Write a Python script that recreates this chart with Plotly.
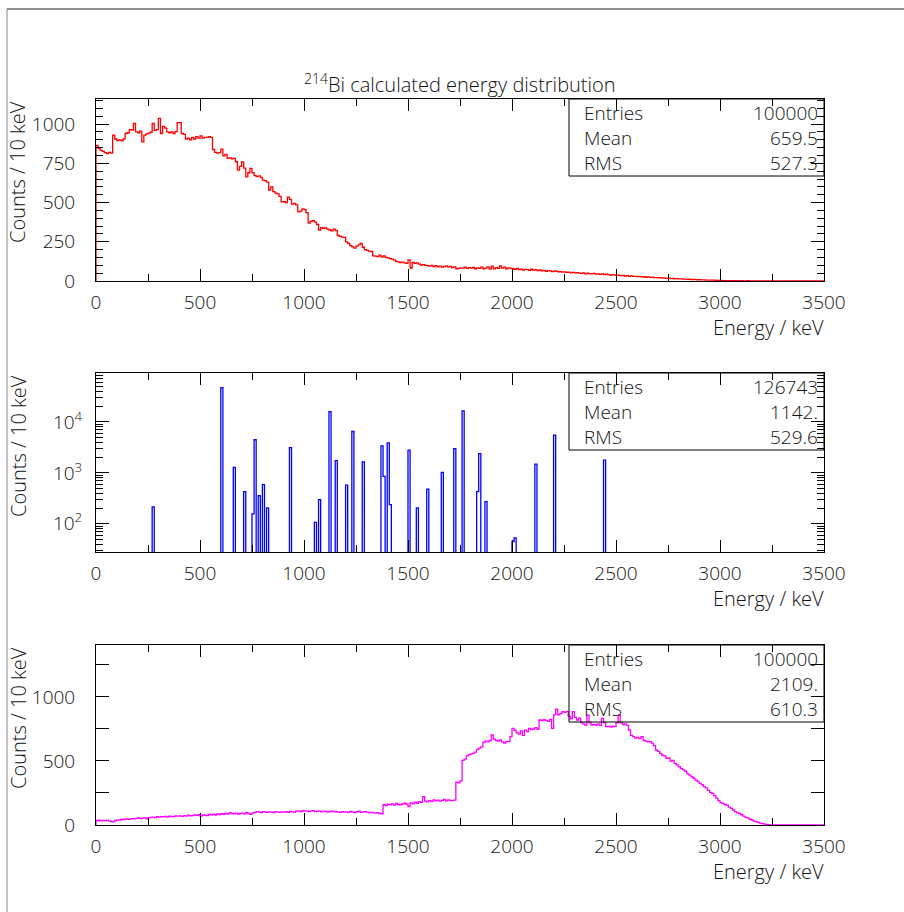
import plotly.graph_objects as go

# ---------------- data (10 keV bins starting at 0 keV) ----------------
BIN = 10
NBINS = 350

top_counts = [
    865, 845, 832, 826, 818, 812, 820, 815, 930, 905,
    895, 900, 893, 905, 940, 945, 965, 962, 1004, 950,
    945, 955, 887, 930, 938, 942, 948, 1004, 960, 965,
    1036, 940, 985, 975, 950, 945, 950, 940, 952, 1010,
    1010, 940, 935, 905, 910, 900, 915, 905, 920, 910,
    925, 910, 915, 915, 920, 915, 838, 820, 815, 818,
    840, 797, 807, 781, 785, 778, 782, 760, 707, 730,
    759, 720, 664, 690, 718, 690, 672, 665, 670, 660,
    643, 640, 630, 580, 600, 570, 560, 555, 540, 505,
    505, 500, 535, 520, 490, 495, 485, 440, 445, 460,
    455, 435, 369, 380, 385, 375, 360, 325, 340, 335,
    338, 330, 325, 320, 330, 322, 290, 285, 280, 278,
    250, 240, 225, 218, 210, 222, 230, 240, 215, 200,
    195, 190, 188, 160, 158, 155, 165, 152, 160, 150,
    148, 142, 140, 135, 125, 122, 118, 120, 115, 112,
    134, 83, 118, 112, 115, 108, 102, 105, 100, 98,
    95, 100, 92, 98, 90, 95, 88, 92, 96, 90,
    93, 85, 90, 78, 80, 84, 82, 88, 80, 85,
    82, 86, 78, 84, 80, 88, 78, 82, 90, 76,
    95, 78, 85, 80, 96, 82, 88, 78, 84, 80,
    78, 74, 80, 72, 76, 70, 74, 72, 68, 75,
    70, 72, 66, 70, 64, 68, 62, 66, 64, 60,
    65, 62, 58, 60, 56, 58, 55, 57, 52, 55,
    52, 54, 50, 48, 52, 46, 50, 47, 45, 48,
    44, 46, 42, 45, 40, 43, 41, 38, 40, 37,
    36, 38, 34, 35, 32, 34, 30, 33, 30, 29,
    28, 30, 26, 27, 24, 26, 23, 25, 22, 22,
    20, 22, 18, 19, 17, 18, 15, 16, 14, 15,
    13, 14, 12, 12, 10, 11, 9, 10, 9, 8,
    8, 7, 7, 6, 6, 5, 5, 5, 4, 4,
    4, 3, 3, 3, 2, 3, 2, 2, 2, 1,
    2, 1, 1, 2, 1, 1, 0, 1, 0, 0,
]

mid_energy = [270, 600, 660, 710, 750, 760, 780, 800, 820, 930, 1050, 1070,
              1120, 1150, 1200, 1230, 1280, 1370, 1380, 1400, 1410, 1500, 1540,
              1590, 1660, 1720, 1760, 1830, 1840, 1870, 2000, 2010, 2110, 2200, 2440]
mid_counts = [214, 47000, 1275, 427, 157, 4460, 355, 590, 205, 3130, 107, 298,
              15900, 1740, 576, 6480, 1640, 3370, 850, 3870, 237, 2780, 205,
              480, 1020, 3000, 16400, 427, 2390, 272, 45, 53, 1480, 5500, 1770]

bot_counts = [
    35, 37, 33, 36, 34, 38, 30, 27, 25, 35,
    40, 38, 45, 42, 48, 44, 46, 50, 48, 52,
    55, 50, 52, 56, 48, 58, 60, 62, 58, 65,
    62, 66, 64, 68, 62, 70, 66, 68, 72, 70,
    72, 68, 74, 70, 76, 72, 74, 78, 76, 80,
    70, 78, 76, 74, 82, 80, 84, 78, 86, 82,
    88, 84, 90, 86, 96, 90, 88, 92, 86, 90,
    92, 88, 96, 90, 84, 94, 98, 104, 100, 96,
    104, 100, 98, 102, 100, 96, 104, 100, 98, 102,
    100, 104, 98, 106, 102, 100, 108, 110, 104, 112,
    108, 110, 104, 108, 112, 104, 106, 110, 102, 108,
    106, 100, 104, 108, 102, 106, 100, 98, 104, 100,
    102, 98, 106, 100, 96, 104, 108, 98, 102, 104,
    100, 96, 98, 94, 92, 96, 90, 88, 158, 152,
    162, 158, 165, 155, 168, 160, 158, 164, 170, 162,
    143, 172, 165, 178, 170, 182, 176, 221, 186, 180,
    190, 184, 196, 188, 194, 186, 192, 200, 188, 196,
    192, 190, 194, 335, 330, 345, 505, 515, 540, 550,
    555, 560, 570, 590, 600, 610, 648, 655, 650, 660,
    703, 670, 660, 655, 665, 650, 640, 652, 651, 690,
    755, 740, 720, 710, 735, 700, 740, 730, 755, 745,
    750, 760, 748, 820, 815, 822, 818, 810, 825, 755,
    860, 904, 860, 870, 885, 880, 888, 850, 830, 885,
    840, 820, 835, 800, 790, 780, 859, 800, 781, 785,
    781, 790, 778, 833, 800, 768, 770, 765, 772, 768,
    800, 859, 800, 785, 790, 780, 742, 700, 690, 678,
    685, 675, 690, 660, 655, 650, 652, 640, 620, 586,
    575, 560, 545, 540, 520, 525, 500, 505, 480, 470,
    455, 440, 430, 420, 400, 390, 377, 365, 350, 340,
    325, 315, 300, 290, 270, 255, 247, 230, 210, 190,
    175, 169, 160, 156, 140, 130, 117, 105, 95, 90,
    80, 70, 60, 55, 45, 39, 30, 26, 20, 14,
    10, 7, 5, 2,
]

stats = [
    [("Entries", "100000"), ("Mean", "659.5"), ("RMS", "527.3")],
    [("Entries", "126743"), ("Mean", "1142."), ("RMS", "529.6")],
    [("Entries", "100000"), ("Mean", "2109."), ("RMS", "610.3")],
]
colors = ["#ff0000", "#0000ff", "#ff00ff"]
x_ticks = [0, 500, 1000, 1500, 2000, 2500, 3000, 3500]

# ---------------- helpers ----------------
W, H = 904, 912
def px(x):
    return x / W
def py(y):
    return 1 - y / H

def full(counts):
    c = list(counts) + [0] * (NBINS - len(counts))
    return c[:NBINS]

def sparse_full(energies, counts):
    c = [0] * NBINS
    for e, v in zip(energies, counts):
        c[int(round(e / BIN))] = v
    return c

def step(counts, floor=0.0):
    xs = [0.0]
    ys = [floor]
    for i, c in enumerate(counts):
        xs.append(i * BIN)
        ys.append(c if c > 0 else floor)
    xs.append(NBINS * BIN)
    ys.append(floor)
    return xs, ys

FONT = "Open Sans"
TF = dict(family=FONT, size=19, color="#111111", weight=300)
AF = dict(family=FONT, size=20, color="#111111", weight=300)
SF = dict(family=FONT, size=19, color="#111111", weight=300)
fig = go.Figure()

series = [full(top_counts), sparse_full(mid_energy, mid_counts), full(bot_counts)]
floors = [0.0, 1.0, 0.0]
for k in range(3):
    xs, ys = step(series[k], floors[k])
    fig.add_trace(go.Scatter(
        x=xs, y=ys, mode="lines", line=dict(color=colors[k], width=1.3, shape="hv"),
        xaxis="x" if k == 0 else f"x{k+1}", yaxis="y" if k == 0 else f"y{k+1}",
        showlegend=False, hoverinfo="skip"))

panels = [(99, 281), (373, 552), (645, 825)]
xl, xr = 96, 824

common_x = dict(
    domain=[px(xl), px(xr)], range=[0, 3500], showline=True, linecolor="black",
    linewidth=1, mirror="ticks", ticks="inside", ticklen=12, tickcolor="black",
    tickwidth=1, tickvals=x_ticks, ticktext=[str(v) for v in x_ticks],
    minor=dict(dtick=250, tick0=0, ticks="inside", ticklen=7, tickcolor="black"),
    showgrid=False, zeroline=False, ticklabelstandoff=4, automargin=False,
    tickfont=TF,
)

layout = dict(
    width=W, height=H, autosize=False, margin=dict(l=0, r=0, t=0, b=0, pad=0),
    paper_bgcolor="white", plot_bgcolor="white", showlegend=False,
    font=TF,
)
for k in range(3):
    top, bot = panels[k]
    xname = "xaxis" if k == 0 else f"xaxis{k+1}"
    yname = "yaxis" if k == 0 else f"yaxis{k+1}"
    ax = dict(common_x)
    ax["anchor"] = "y" if k == 0 else f"y{k+1}"
    layout[xname] = ax
    ydom = [py(bot), py(top)]
    base_y = dict(domain=ydom, showline=True, linecolor="black", linewidth=1,
                  mirror="ticks", ticks="inside", tickcolor="black", showgrid=False,
                  zeroline=False, anchor="x" if k == 0 else f"x{k+1}", automargin=False,
                  tickfont=TF)
    if k == 0:
        base_y.update(range=[0, 1160], tickvals=[0, 250, 500, 750, 1000], ticklen=13,
                      minor=dict(dtick=50, tick0=0, ticks="inside", ticklen=7, tickcolor="black"),
                      ticklabelstandoff=16)
    elif k == 1:
        base_y.update(type="log", range=[1.447, 4.959], tickvals=[100, 1000, 10000],
                      ticktext=["10<sup>2</sup>", "10<sup>3</sup>", "10<sup>4</sup>"],
                      ticklen=13,
                      minor=dict(dtick="D1", ticks="inside", ticklen=7, tickcolor="black"),
                      ticklabelstandoff=9)
    else:
        base_y.update(range=[0, 1406], tickvals=[0, 500, 1000], ticklen=13,
                      minor=dict(dtick=250, tick0=0, ticks="inside", ticklen=13, tickcolor="black"),
                      ticklabelstandoff=16)
    layout[yname] = base_y

fig.update_layout(**layout)

shapes = []
annotations = []
shapes.append(dict(type="line", xref="paper", yref="paper", x0=px(7), x1=1.0,
                   y0=py(9), y1=py(9), line=dict(color="#222222", width=1)))
shapes.append(dict(type="line", xref="paper", yref="paper", x0=px(7), x1=px(7),
                   y0=py(9), y1=0, line=dict(color="#888888", width=1)))

row_off = [14, 39, 64]
for k in range(3):
    top, bot = panels[k]
    btop, bbot = top, top + 77
    shapes.append(dict(type="rect", xref="paper", yref="paper", x0=px(569), x1=px(824),
                       y0=py(bbot), y1=py(btop), line=dict(color="black", width=1),
                       fillcolor="rgba(0,0,0,0)", layer="above"))
    for j, (lab, val) in enumerate(stats[k]):
        yy = py(top + row_off[j])
        annotations.append(dict(xref="paper", yref="paper", x=px(582), y=yy, text=lab,
                                showarrow=False, xanchor="left", yanchor="middle", font=SF))
        annotations.append(dict(xref="paper", yref="paper", x=px(820), y=yy, text=val,
                                showarrow=False, xanchor="right", yanchor="middle", font=SF))
    annotations.append(dict(xref="paper", yref="paper", x=px(18), y=py(top),
                            text="Counts / 10 keV", textangle=-90, showarrow=False,
                            xanchor="center", yanchor="top", font=AF))
    annotations.append(dict(xref="paper", yref="paper", x=px(826), y=py(bot + 46),
                            text="Energy / keV", showarrow=False, xanchor="right",
                            yanchor="middle", font=AF))

annotations.append(dict(xref="paper", yref="paper", x=px(460), y=py(84),
                        text="<sup>214</sup>Bi calculated energy distribution",
                        showarrow=False, xanchor="center", yanchor="middle", font=AF))

fig.update_layout(shapes=shapes, annotations=annotations)
fig.write_html(
    "out.html",
    config={"responsive": False},
    default_width="904px",
    default_height="912px",
    post_script="document.body.style.margin='0';document.body.style.padding='0';"
                "document.body.style.overflow='hidden';"
                "document.documentElement.style.overflow='hidden';",
)
